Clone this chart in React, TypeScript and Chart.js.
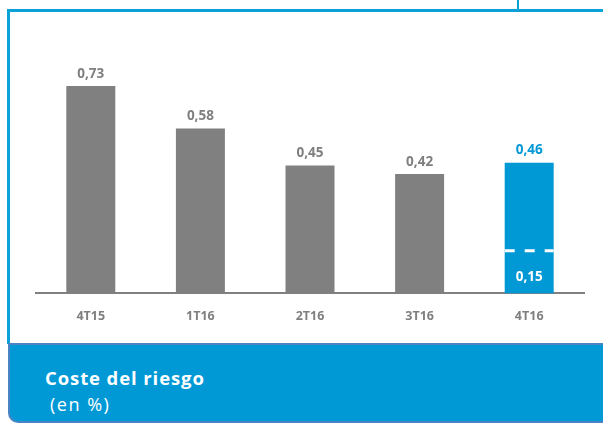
import React, { useEffect, useRef } from "react";
import { Chart, registerables } from "chart.js";

Chart.register(...registerables);

const categories = ["4T15", "1T16", "2T16", "3T16", "4T16"];
const values = [0.73, 0.58, 0.45, 0.42, 0.46];
const valueLabels = ["0,73", "0,58", "0,45", "0,42", "0,46"];
const dashedValues: (number | null)[] = [null, null, null, null, 0.15];
const dashedLabels: (string | null)[] = [null, null, null, null, "0,15"];
const barColors = ["#808080", "#808080", "#808080", "#808080", "#0099d6"];
const labelColors = ["#7f7f7f", "#7f7f7f", "#7f7f7f", "#7f7f7f", "#0099d6"];

const FONT = "'Open Sans', Lato, sans-serif";

const labelPlugin = {
  id: "valueLabels",
  afterDatasetsDraw(chart: any) {
    const ctx = chart.ctx;
    const meta = chart.getDatasetMeta(0);
    const yScale = chart.scales.y;
    ctx.save();
    ctx.textAlign = "center";
    ctx.textBaseline = "middle";
    meta.data.forEach((bar: any, i: number) => {
      const p = bar.getProps(["x", "y", "width"], true);
      ctx.font = `bold 13.5px ${FONT}`;
      ctx.fillStyle = labelColors[i];
      ctx.fillText(valueLabels[i], p.x, p.y - 12);
      const d = dashedValues[i];
      if (d != null) {
        const yy = yScale.getPixelForValue(d);
        ctx.strokeStyle = "#ffffff";
        ctx.lineWidth = 3;
        ctx.setLineDash([10, 10]);
        ctx.beginPath();
        ctx.moveTo(p.x - p.width / 2, yy);
        ctx.lineTo(p.x + p.width / 2, yy);
        ctx.stroke();
        ctx.setLineDash([]);
        ctx.fillStyle = "#ffffff";
        ctx.fillText(dashedLabels[i] as string, p.x, yy + 26);
      }
    });
    ctx.restore();
  },
};

export default function App() {
  const ref = useRef<HTMLCanvasElement | null>(null);

  useEffect(() => {
    if (!ref.current) return;
    const chart = new Chart(ref.current, {
      type: "bar",
      data: {
        labels: categories,
        datasets: [
          {
            data: values,
            backgroundColor: barColors,
            borderWidth: 0,
            barPercentage: 0.447,
            categoryPercentage: 1,
          },
        ],
      },
      options: {
        responsive: false,
        animation: false,
        layout: { padding: { left: 36, right: 19, top: 66, bottom: 16.6 } },
        plugins: { legend: { display: false }, tooltip: { enabled: false } },
        scales: {
          x: {
            grid: { display: false, drawTicks: false },
            border: { display: true, color: "#808080", width: 2 },
            ticks: {
              color: "#7f7f7f",
              font: { family: FONT, size: 12.5, weight: "bold" },
              padding: 16,
            },
          },
          y: { display: false, min: 0, max: 0.8 },
        },
      },
      plugins: [labelPlugin],
    });
    return () => chart.destroy();
  }, []);

  const blue = "#0aa0d8";
  return (
    <div style={{ position: "fixed", left: 0, top: 0, width: 603, height: 423, background: "#fff", overflow: "hidden" }}>
      <div style={{ position: "absolute", left: 517, top: 0, width: 2, height: 11, background: blue }} />
      <div style={{ position: "absolute", left: 7, top: 9, width: 596, height: 3, background: blue }} />
      <div style={{ position: "absolute", left: 7, top: 9, width: 3, height: 335, background: blue }} />
      <canvas ref={ref} width={603} height={357} style={{ position: "absolute", left: 0, top: 0 }} />
      <div
        style={{
          position: "absolute",
          left: 8,
          top: 343,
          width: 600,
          height: 76,
          background: "#0099d6",
          border: "2px solid #4a84c4",
          borderRight: "none",
          borderBottomLeftRadius: 10,
        }}
      />
      <div
        style={{
          position: "absolute",
          left: 45,
          top: 365,
          color: "#fff",
          fontFamily: FONT,
          fontWeight: "bold",
          fontSize: 18.5,
          letterSpacing: 0.9,
          lineHeight: "normal",
          whiteSpace: "nowrap",
        }}
      >
        Coste del riesgo
      </div>
      <div
        style={{
          position: "absolute",
          left: 50,
          top: 392,
          color: "#fff",
          fontFamily: FONT,
          fontSize: 18,
          letterSpacing: 1.5,
          lineHeight: "normal",
          whiteSpace: "nowrap",
        }}
      >
        (en %)
      </div>
    </div>
  );
}
